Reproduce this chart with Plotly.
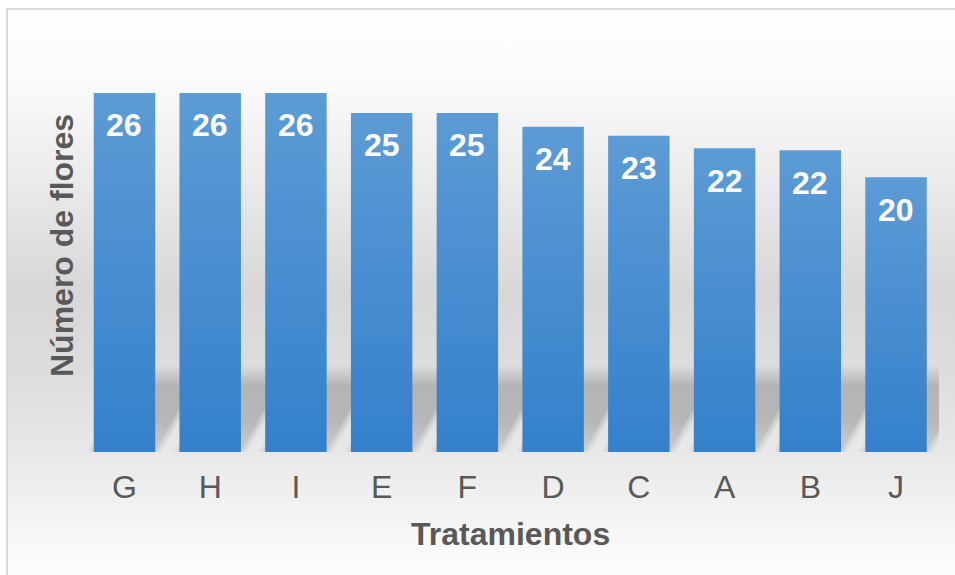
import plotly.graph_objects as go

# Flower counts per treatment (labels show the rounded value)
categories = ["G", "H", "I", "E", "F", "D", "C", "A", "B", "J"]
flowers = [26.0, 26.0, 26.0, 24.55, 24.55, 23.55, 22.9, 22.0, 21.85, 19.9]
x_title = "Tratamientos"
y_title = "Número de flores"

W, H = 955, 575
FONT = "Liberation Sans, Arial, Helvetica, sans-serif"
TEXT_GREY = "#595959"

# Styling constants for the bars and their soft floor shadow
BAR_HALF = 0.3585          # half bar width in category units
Y_MAX = 28                 # value-axis range top
SHADOW_H = 6.3             # shadow height (value units)
SHADOW_SHEAR = 0.56        # rightward lean of the shadow top (category units)

fig = go.Figure()

# ---- page background: soft vertical grey gradient on a full-page helper axis
fig.add_trace(go.Scatter(
    x=[8, W + 5, W + 5, 8, 8], y=[-5, -5, H - 10, H - 10, -5],
    xaxis="x", yaxis="y", mode="lines", line=dict(width=0),
    fill="toself", hoverinfo="skip", showlegend=False,
    fillgradient=dict(
        type="vertical", start=0, stop=H - 10,
        colorscale=[
            [0.00, "#fdfdfd"],
            [0.10, "#f4f4f4"],
            [0.22, "#e8e8e8"],
            [0.34, "#dedede"],
            [0.50, "#d7d7d7"],
            [0.70, "#ebebeb"],
            [0.87, "#fafafa"],
            [1.00, "#ffffff"],
        ],
    ),
))

xs = list(range(len(categories)))

# ---- leaning shadows behind each bar (several layers for a blurred edge)
for spread, alpha in [(0.07, 0.06), (0.035, 0.07), (0.0, 0.08)]:
    for i in xs:
        x0 = i - BAR_HALF - spread
        x1 = i + BAR_HALF + spread
        fig.add_trace(go.Scatter(
            x=[x0, x1, x1 + SHADOW_SHEAR, x0 + SHADOW_SHEAR, x0],
            y=[0, 0, SHADOW_H, SHADOW_H, 0],
            xaxis="x2", yaxis="y2", mode="lines", line=dict(width=0),
            fill="toself", hoverinfo="skip", showlegend=False,
            fillgradient=dict(
                type="vertical", start=0, stop=SHADOW_H,
                colorscale=[
                    [0.00, f"rgba(0,0,0,{alpha * 0.6})"],
                    [0.35, f"rgba(0,0,0,{alpha})"],
                    [0.75, f"rgba(0,0,0,{alpha})"],
                    [1.00, "rgba(0,0,0,0)"],
                ],
            ),
        ))

# ---- bars with a top-to-bottom blue gradient
for i, (cat, v) in enumerate(zip(categories, flowers)):
    x0, x1 = i - BAR_HALF, i + BAR_HALF
    fig.add_trace(go.Scatter(
        x=[x0, x1, x1, x0, x0], y=[0, 0, v, v, 0],
        xaxis="x2", yaxis="y2", mode="lines", line=dict(width=0),
        fill="toself", name=cat, showlegend=False,
        hovertemplate=f"{cat}: {v:.0f}<extra></extra>",
        fillgradient=dict(
            type="vertical", start=0, stop=v,
            colorscale=[[0, "#3480cb"], [1, "#5c9bd5"]],
        ),
    ))

# ---- value labels inside the top of each bar
annotations = []
for i, v in enumerate(flowers):
    annotations.append(dict(
        x=i, y=v, xref="x2", yref="y2", text=f"{v:.0f}",
        showarrow=False, yanchor="middle", xanchor="center", yshift=-32.5,
        font=dict(family=FONT, size=32, color="white", weight="bold"),
    ))

# ---- axis titles
annotations.append(dict(
    x=510 / W, y=1 - 534 / H, xref="paper", yref="paper", text=x_title,
    showarrow=False, xanchor="center", yanchor="middle",
    font=dict(family=FONT, size=32, color=TEXT_GREY, weight="bold"),
))
annotations.append(dict(
    x=61.5 / W, y=1 - 245.5 / H, xref="paper", yref="paper", text=y_title,
    showarrow=False, xanchor="center", yanchor="middle", textangle=-90,
    font=dict(family=FONT, size=32, color=TEXT_GREY, weight="bold"),
))

# Chart frame
shapes = [dict(
    type="rect", xref="paper", yref="paper",
    x0=7 / W, x1=1.02, y0=-0.02, y1=1 - 9 / H,
    line=dict(color="#d9d9d9", width=2), fillcolor="rgba(0,0,0,0)", layer="above",
)]

fig.update_layout(
    width=W, height=H,
    margin=dict(l=0, r=0, t=0, b=0),
    paper_bgcolor="white",
    plot_bgcolor="rgba(0,0,0,0)",
    showlegend=False,
    annotations=annotations,
    shapes=shapes,
    xaxis=dict(domain=[0, 1], range=[0, W], visible=False, fixedrange=True),
    yaxis=dict(domain=[0, 1], range=[0, H], visible=False, fixedrange=True),
    xaxis2=dict(
        domain=[81.6 / W, 938.9 / W], range=[-0.5, len(categories) - 0.5],
        anchor="y2", tickmode="array", tickvals=xs, ticktext=categories,
        showgrid=False, zeroline=False, showline=False, ticks="",
        ticklabelstandoff=13,
        tickfont=dict(family=FONT, size=32, color=TEXT_GREY),
        fixedrange=True,
    ),
    yaxis2=dict(
        domain=[(H - 452) / H, (H - 452 + Y_MAX * 13.81) / H],
        range=[0, Y_MAX], anchor="x2",
        showgrid=False, zeroline=False, showline=False,
        showticklabels=False, ticks="", fixedrange=True,
    ),
)

fig.write_html("out.html")
